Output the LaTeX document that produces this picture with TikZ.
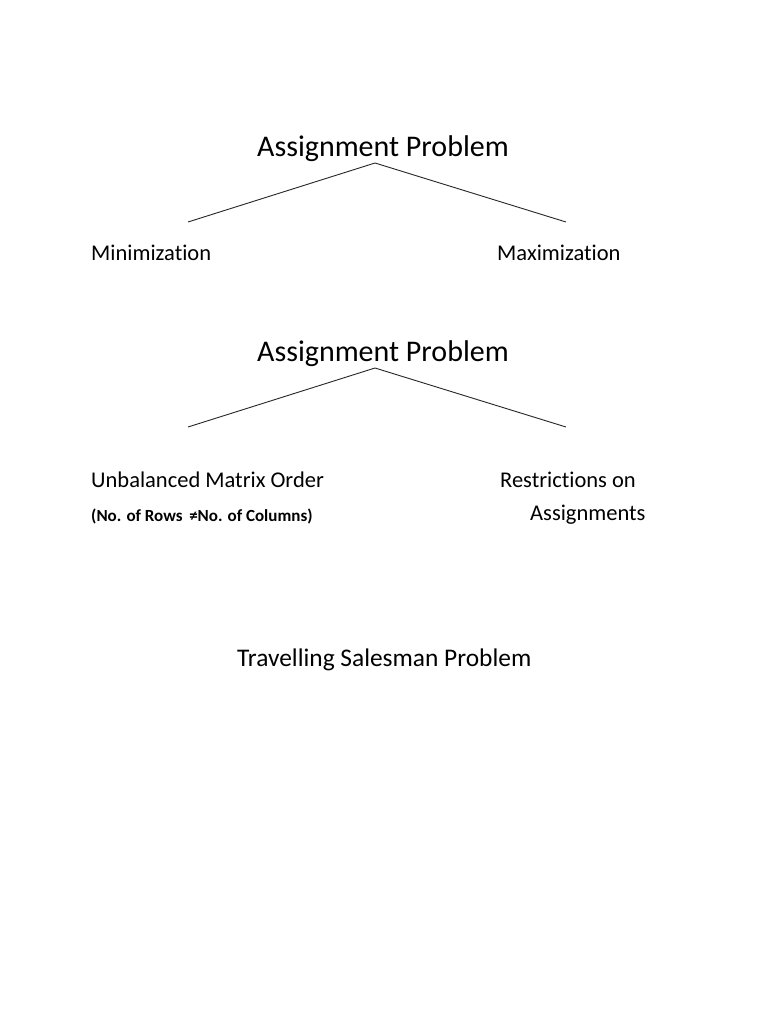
\documentclass[tikz,border=0pt]{standalone}
\usepackage{fontspec}
\setmainfont[Ligatures=NoCommon]{Carlito}
\begin{document}
\begin{tikzpicture}[x=1pt,y=-1pt,
  title/.style={font=\fontsize{30}{34}\selectfont, anchor=base, inner sep=0pt},
  item/.style={font=\fontsize{22.5}{26}\selectfont, anchor=base west, inner sep=0pt},
  big/.style={font=\fontsize{25.4}{29}\selectfont, anchor=base west, inner sep=0pt},
  small/.style={font=\fontsize{17}{20}\selectfont\bfseries, anchor=base west, inner sep=0pt},
  branch/.style={draw=black!85, line width=0.9pt}]
\useasboundingbox (0,0) rectangle (768,1024);
\fill[white] (0,0) rectangle (768,1024);
% first tree
\node[title] (t1) at (383,157) {Assignment Problem};
\coordinate (a1) at (375,163);
\coordinate (l1) at (188,222);
\coordinate (r1) at (566,222);
\draw[branch] (l1) -- (a1) -- (r1);
\node[item] (min) at (91,260) {Minimization};
\node[item] (max) at (497,260) {Maximization};
% second tree
\node[title] (t2) at (383,361) {Assignment Problem};
\coordinate (a2) at (375,368);
\coordinate (l2) at (188,427);
\coordinate (r2) at (566,427);
\draw[branch] (l2) -- (a2) -- (r2);
\node[item] (unb) at (91,487) {Unbalanced Matrix Order};
\node[small] (rows) at (91,521) {(No. of Rows \,≠No. of Columns)};
\node[item] (res) at (500,487) {Restrictions on};
\node[item] (asg) at (530,520) {Assignments};
% third
\node[big] (tsp) at (237,666) {Travelling Salesman Problem};
\end{tikzpicture}
\end{document}
